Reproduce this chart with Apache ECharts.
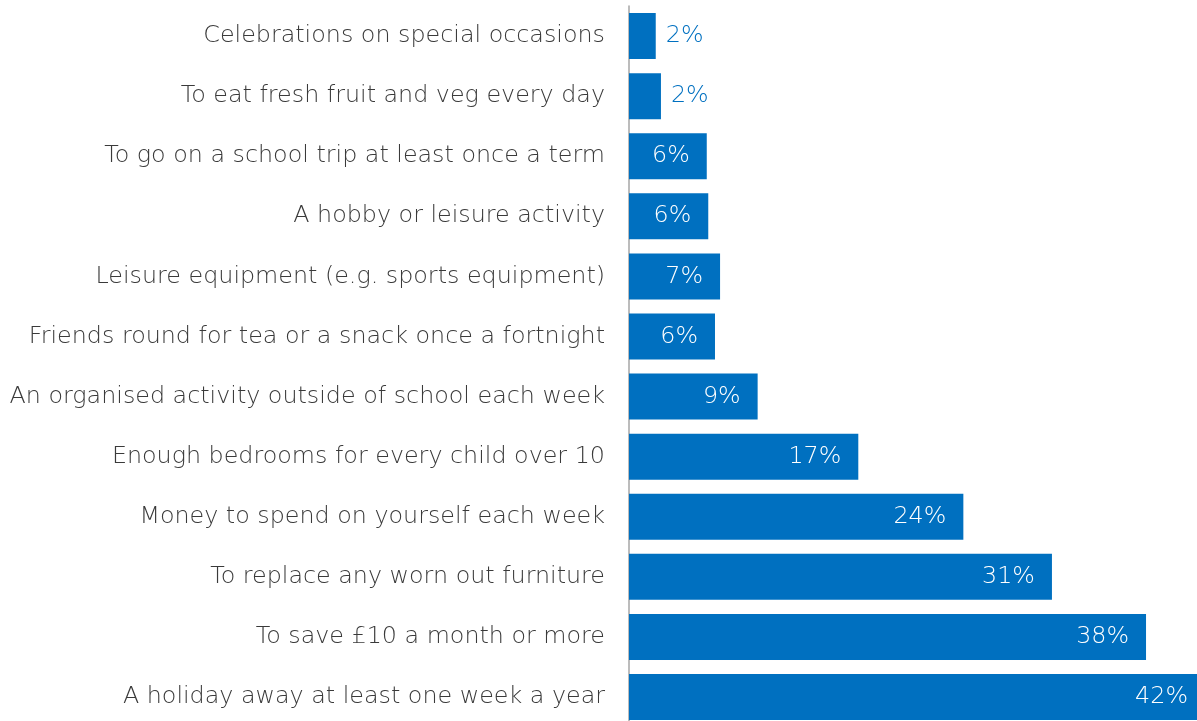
<!DOCTYPE html>
<html>
<head>
<meta charset="utf-8">
<script src="https://cdn.jsdelivr.net/npm/echarts@6/dist/echarts.min.js"></script>
<style>
  html, body { margin: 0; padding: 0; background: #fff; overflow: hidden; }
  /* slightly larger than the window: the last bar runs off the right and bottom edges */
  #chart { width: 1205px; height: 727px; }
</style>
</head>
<body>
<div id="chart"></div>
<script>
// items, listed top to bottom as in the picture
var items = [
  'Celebrations on special occasions',
  'To eat fresh fruit and veg every day',
  'To go on a school trip at least once a term',
  'A hobby or leisure activity',
  'Leisure equipment (e.g. sports equipment)',
  'Friends round for tea or a snack once a fortnight',
  'An organised activity outside of school each week',
  'Enough bedrooms for every child over 10',
  'Money to spend on yourself each week',
  'To replace any worn out furniture',
  'To save £10 a month or more',
  'A holiday away at least one week a year'
];
// share of families who cannot afford it (%), bar lengths
var shares = [1.95, 2.33, 5.67, 5.78, 6.64, 6.27, 9.38, 16.72, 24.38, 30.84, 37.7, 42.0];

var blue = '#0070C0';
var font = 'DejaVu Sans';

var chart = echarts.init(document.getElementById('chart'));

var barData = shares.map(function (v) {
  // small bars get their label outside, in blue
  if (v < 3) {
    return { value: v, label: { position: 'right', distance: 10, color: blue } };
  }
  return { value: v };
});

chart.setOption({
  animation: false,
  grid: { left: 629, right: 0, top: 6, bottom: 0, containLabel: false },
  xAxis: {
    type: 'value',
    min: 0,
    max: 42,
    show: false
  },
  yAxis: {
    type: 'category',
    inverse: true,
    data: items,
    axisLine: { show: true, lineStyle: { color: '#a6a6a6', width: 1.5 } },
    axisTick: { show: false },
    axisLabel: {
      margin: 24,
      color: '#3a3a3a',
      fontFamily: font,
      fontWeight: 200,
      fontSize: 23.8
    }
  },
  series: [{
    type: 'bar',
    data: barData,
    barWidth: 46,
    itemStyle: { color: blue },
    label: {
      show: true,
      position: 'insideRight',
      distance: 17,
      color: '#fff',
      fontFamily: font,
      fontWeight: 200,
      fontSize: 23.8,
      formatter: function (p) { return Math.round(p.value) + '%'; }
    }
  }]
});
</script>
</body>
</html>
